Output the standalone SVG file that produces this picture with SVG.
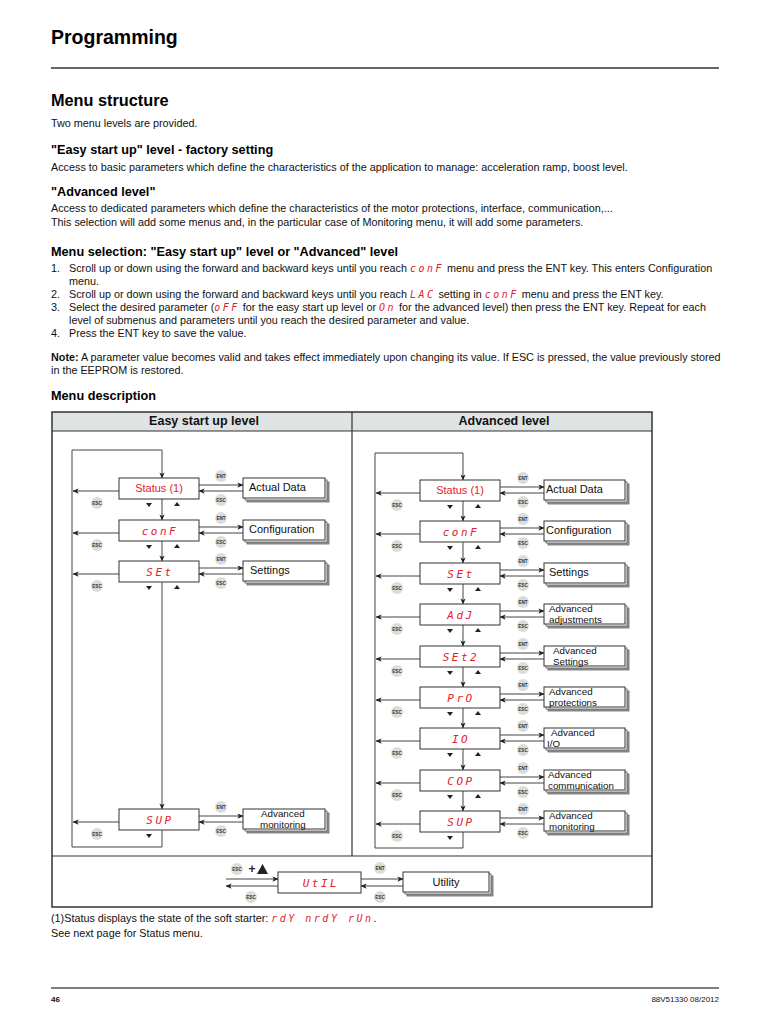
<svg xmlns="http://www.w3.org/2000/svg" xmlns:xlink="http://www.w3.org/1999/xlink" width="768" height="1024" viewBox="0 0 768 1024">
<style>
.t{font-family:"Liberation Sans",Arial,sans-serif;font-size:10.8px;fill:#111}
.b{font-weight:bold}
.h1{font-family:"Liberation Sans",Arial,sans-serif;font-size:19.5px;font-weight:bold;fill:#000}
.h2{font-family:"Liberation Sans",Arial,sans-serif;font-size:16.3px;font-weight:bold;fill:#000}
.h3{font-family:"Liberation Sans",Arial,sans-serif;font-size:12.7px;font-weight:bold;fill:#000}
.th{font-family:"Liberation Sans",Arial,sans-serif;font-size:12.5px;font-weight:bold;fill:#111;text-anchor:middle}
.code{font-family:"DejaVu Sans Mono",monospace;font-style:oblique;fill:#e4202a;letter-spacing:2.5px}
.dc{font-family:"DejaVu Sans Mono",monospace;font-style:oblique;font-size:11px;fill:#e4202a;letter-spacing:2.5px;text-anchor:middle}
.st{font-family:"Liberation Sans",Arial,sans-serif;font-size:11px;fill:#e4202a;text-anchor:middle}
.lb{font-family:"Liberation Sans",Arial,sans-serif;font-size:11px;fill:#111}
.lb2{font-family:"Liberation Sans",Arial,sans-serif;font-size:9.8px;fill:#111}
.bx{fill:#fff;stroke:#333;stroke-width:1}
.s1{fill:#fff;stroke:#555;stroke-width:0.8}
.s2{fill:#9a9a9a;stroke:#666;stroke-width:0.8}
.ln{fill:none;stroke:#444;stroke-width:1}
.tri{fill:#222}
.bd{font-family:"Liberation Sans",Arial,sans-serif;font-size:4.6px;font-weight:bold;fill:#333;text-anchor:middle}
.foot{font-family:"Liberation Sans",Arial,sans-serif;font-size:8px;fill:#111}
</style>
<defs>
<marker id="ah" viewBox="0 0 8 8" refX="7.5" refY="4" markerWidth="6" markerHeight="6" markerUnits="userSpaceOnUse" orient="auto">
<path d="M0,0.5 L8,4 L0,7.5 L2,4 z" fill="#222"/>
</marker>
<g id="esc"><circle r="6" fill="#dcdcdc"/><text y="1.7" class="bd">ESC</text></g>
<g id="ent"><circle r="6" fill="#dcdcdc"/><text y="1.7" class="bd">ENT</text></g>
<polygon id="dn" points="-3,-2 3,-2 0,2" class="tri"/>
<polygon id="up" points="-3,2 3,2 0,-2" class="tri"/>
</defs>
<rect width="768" height="1024" fill="#fff"/>

<!-- Page text -->
<g id="page-text">
<text x="51" y="44" class="h1">Programming</text>
<line x1="51" y1="68" x2="719" y2="68" stroke="#666" stroke-width="2"/>
<text x="51" y="106" class="h2">Menu structure</text>
<text x="51" y="127" class="t">Two menu levels are provided.</text>
<text x="51" y="154" class="h3">"Easy start up" level - factory setting</text>
<text x="51" y="171" class="t">Access to basic parameters which define the characteristics of the application to manage: acceleration ramp, boost level.</text>
<text x="51" y="196" class="h3">"Advanced level"</text>
<text x="51" y="212" class="t">Access to dedicated parameters which define the characteristics of the motor protections, interface, communication,...</text>
<text x="51" y="226" class="t">This selection will add some menus and, in the particular case of Monitoring menu, it will add some parameters.</text>
<text x="51" y="256" class="h3">Menu selection: "Easy start up" level or "Advanced" level</text>
<text x="51" y="272" class="t">1.</text>
<text x="69" y="272" class="t">Scroll up or down using the forward and backward keys until you reach <tspan class="code" font-size="10">conF</tspan> menu and press the ENT key. This enters Configuration</text>
<text x="69" y="285" class="t">menu.</text>
<text x="51" y="298" class="t">2.</text>
<text x="69" y="298" class="t">Scroll up or down using the forward and backward keys until you reach <tspan class="code" font-size="10">LAC</tspan> setting in <tspan class="code" font-size="10">conF</tspan> menu and press the ENT key.</text>
<text x="51" y="311" class="t">3.</text>
<text x="69" y="311" class="t">Select the desired parameter (<tspan class="code" font-size="10">oFF</tspan> for the easy start up level or <tspan class="code" font-size="10">On</tspan> for the advanced level) then press the ENT key. Repeat for each</text>
<text x="69" y="324" class="t">level of submenus and parameters until you reach the desired parameter and value.</text>
<text x="51" y="337" class="t">4.</text>
<text x="69" y="337" class="t">Press the ENT key to save the value.</text>
<text x="51" y="361" class="t"><tspan class="b">Note:</tspan> A parameter value becomes valid and takes effect immediately upon changing its value. If ESC is pressed, the value previously stored</text>
<text x="51" y="374" class="t">in the EEPROM is restored.</text>
<text x="51" y="400" class="h3">Menu description</text>
<text x="51" y="922" class="t">(1)Status displays the state of the soft starter: <tspan class="code" font-size="10">rdY nrdY rUn</tspan>.</text>
<text x="51" y="937" class="t">See next page for Status menu.</text>
<line x1="51" y1="988" x2="719" y2="988" stroke="#555" stroke-width="1.5"/>
<text x="51" y="1002" class="foot" font-weight="bold">46</text>
<text x="719" y="1002" class="foot" text-anchor="end">88V51330 08/2012</text>
</g>

<!-- Table -->
<g id="table">
<rect x="52" y="412" width="600" height="19" fill="#dfe3e3"/>
<rect x="52" y="412" width="600" height="495" fill="none" stroke="#333" stroke-width="1.5"/>
<line x1="52" y1="431" x2="652" y2="431" stroke="#333" stroke-width="1.2"/>
<line x1="352" y1="412" x2="352" y2="856" stroke="#333" stroke-width="1.2"/>
<line x1="52" y1="856" x2="652" y2="856" stroke="#333" stroke-width="1.2"/>
<text x="204" y="425" class="th">Easy start up level</text>
<text x="504" y="425" class="th">Advanced level</text>
</g>

<!-- Connectors -->
<g id="connectors">
<path class="ln" d="M162,830 V847 H72 V450 H162 V478" marker-end="url(#ah)"/>
<line class="ln" x1="162" y1="499" x2="162" y2="520" marker-end="url(#ah)"/>
<line class="ln" x1="162" y1="541" x2="162" y2="561" marker-end="url(#ah)"/>
<line class="ln" x1="162" y1="582" x2="162" y2="809" marker-end="url(#ah)"/>
<line class="ln" x1="119" y1="491" x2="73" y2="491" marker-end="url(#ah)"/>
<line class="ln" x1="119" y1="533" x2="73" y2="533" marker-end="url(#ah)"/>
<line class="ln" x1="119" y1="574" x2="73" y2="574" marker-end="url(#ah)"/>
<line class="ln" x1="119" y1="822" x2="73" y2="822" marker-end="url(#ah)"/>
<line class="ln" x1="199" y1="485" x2="243" y2="485" marker-end="url(#ah)"/>
<line class="ln" x1="243" y1="491" x2="199" y2="491" marker-end="url(#ah)"/>
<line class="ln" x1="199" y1="527" x2="243" y2="527" marker-end="url(#ah)"/>
<line class="ln" x1="243" y1="533" x2="199" y2="533" marker-end="url(#ah)"/>
<line class="ln" x1="199" y1="568" x2="243" y2="568" marker-end="url(#ah)"/>
<line class="ln" x1="243" y1="574" x2="199" y2="574" marker-end="url(#ah)"/>
<line class="ln" x1="199" y1="816" x2="243" y2="816" marker-end="url(#ah)"/>
<line class="ln" x1="243" y1="822" x2="199" y2="822" marker-end="url(#ah)"/>

<path class="ln" d="M463,832 V848 H375 V453 H463 V480" marker-end="url(#ah)"/>
<line class="ln" x1="463" y1="501" x2="463" y2="521" marker-end="url(#ah)"/>
<line class="ln" x1="463" y1="542" x2="463" y2="563" marker-end="url(#ah)"/>
<line class="ln" x1="463" y1="584" x2="463" y2="604" marker-end="url(#ah)"/>
<line class="ln" x1="463" y1="625" x2="463" y2="646" marker-end="url(#ah)"/>
<line class="ln" x1="463" y1="667" x2="463" y2="687" marker-end="url(#ah)"/>
<line class="ln" x1="463" y1="708" x2="463" y2="728" marker-end="url(#ah)"/>
<line class="ln" x1="463" y1="749" x2="463" y2="770" marker-end="url(#ah)"/>
<line class="ln" x1="463" y1="791" x2="463" y2="811" marker-end="url(#ah)"/>
<line class="ln" x1="420" y1="493" x2="376" y2="493" marker-end="url(#ah)"/>
<line class="ln" x1="420" y1="534" x2="376" y2="534" marker-end="url(#ah)"/>
<line class="ln" x1="420" y1="576" x2="376" y2="576" marker-end="url(#ah)"/>
<line class="ln" x1="420" y1="617" x2="376" y2="617" marker-end="url(#ah)"/>
<line class="ln" x1="420" y1="659" x2="376" y2="659" marker-end="url(#ah)"/>
<line class="ln" x1="420" y1="700" x2="376" y2="700" marker-end="url(#ah)"/>
<line class="ln" x1="420" y1="741" x2="376" y2="741" marker-end="url(#ah)"/>
<line class="ln" x1="420" y1="783" x2="376" y2="783" marker-end="url(#ah)"/>
<line class="ln" x1="420" y1="824" x2="376" y2="824" marker-end="url(#ah)"/>
<line class="ln" x1="500" y1="487" x2="544" y2="487" marker-end="url(#ah)"/>
<line class="ln" x1="544" y1="493" x2="500" y2="493" marker-end="url(#ah)"/>
<line class="ln" x1="500" y1="528" x2="544" y2="528" marker-end="url(#ah)"/>
<line class="ln" x1="544" y1="534" x2="500" y2="534" marker-end="url(#ah)"/>
<line class="ln" x1="500" y1="570" x2="544" y2="570" marker-end="url(#ah)"/>
<line class="ln" x1="544" y1="576" x2="500" y2="576" marker-end="url(#ah)"/>
<line class="ln" x1="500" y1="611" x2="544" y2="611" marker-end="url(#ah)"/>
<line class="ln" x1="544" y1="617" x2="500" y2="617" marker-end="url(#ah)"/>
<line class="ln" x1="500" y1="653" x2="544" y2="653" marker-end="url(#ah)"/>
<line class="ln" x1="544" y1="659" x2="500" y2="659" marker-end="url(#ah)"/>
<line class="ln" x1="500" y1="694" x2="544" y2="694" marker-end="url(#ah)"/>
<line class="ln" x1="544" y1="700" x2="500" y2="700" marker-end="url(#ah)"/>
<line class="ln" x1="500" y1="735" x2="544" y2="735" marker-end="url(#ah)"/>
<line class="ln" x1="544" y1="741" x2="500" y2="741" marker-end="url(#ah)"/>
<line class="ln" x1="500" y1="777" x2="544" y2="777" marker-end="url(#ah)"/>
<line class="ln" x1="544" y1="783" x2="500" y2="783" marker-end="url(#ah)"/>
<line class="ln" x1="500" y1="818" x2="544" y2="818" marker-end="url(#ah)"/>
<line class="ln" x1="544" y1="824" x2="500" y2="824" marker-end="url(#ah)"/>

<line class="ln" x1="226" y1="879" x2="278" y2="879" marker-end="url(#ah)"/>
<line class="ln" x1="278" y1="886" x2="226" y2="886" marker-end="url(#ah)"/>
<line class="ln" x1="361" y1="879" x2="403" y2="879" marker-end="url(#ah)"/>
<line class="ln" x1="403" y1="886" x2="361" y2="886" marker-end="url(#ah)"/>

<use href="#ent" x="221" y="476"/><use href="#esc" x="221" y="500"/><use href="#esc" x="97" y="503"/><use href="#dn" x="149" y="505"/><use href="#up" x="177" y="504"/>
<use href="#ent" x="221" y="518"/><use href="#esc" x="221" y="542"/><use href="#esc" x="97" y="545"/><use href="#dn" x="149" y="547"/><use href="#up" x="177" y="546"/>
<use href="#ent" x="221" y="559"/><use href="#esc" x="221" y="583"/><use href="#esc" x="97" y="586"/><use href="#dn" x="149" y="588"/><use href="#up" x="177" y="587"/>
<use href="#ent" x="221" y="807"/><use href="#esc" x="221" y="831"/><use href="#esc" x="97" y="834"/><use href="#dn" x="149" y="836"/>

<use href="#ent" x="523" y="478"/><use href="#esc" x="523" y="502"/><use href="#esc" x="397" y="505"/><use href="#dn" x="450" y="507"/><use href="#up" x="478" y="506"/>
<use href="#ent" x="523" y="519"/><use href="#esc" x="523" y="543"/><use href="#esc" x="397" y="546"/><use href="#dn" x="450" y="548"/><use href="#up" x="478" y="547"/>
<use href="#ent" x="523" y="561"/><use href="#esc" x="523" y="585"/><use href="#esc" x="397" y="588"/><use href="#dn" x="450" y="590"/><use href="#up" x="478" y="589"/>
<use href="#ent" x="523" y="602"/><use href="#esc" x="523" y="626"/><use href="#esc" x="397" y="629"/><use href="#dn" x="450" y="631"/><use href="#up" x="478" y="630"/>
<use href="#ent" x="523" y="644"/><use href="#esc" x="523" y="668"/><use href="#esc" x="397" y="671"/><use href="#dn" x="450" y="673"/><use href="#up" x="478" y="672"/>
<use href="#ent" x="523" y="685"/><use href="#esc" x="523" y="709"/><use href="#esc" x="397" y="712"/><use href="#dn" x="450" y="714"/><use href="#up" x="478" y="713"/>
<use href="#ent" x="523" y="726"/><use href="#esc" x="523" y="750"/><use href="#esc" x="397" y="753"/><use href="#dn" x="450" y="755"/><use href="#up" x="478" y="754"/>
<use href="#ent" x="523" y="768"/><use href="#esc" x="523" y="792"/><use href="#esc" x="397" y="795"/><use href="#dn" x="450" y="797"/><use href="#up" x="478" y="796"/>
<use href="#ent" x="523" y="809"/><use href="#esc" x="523" y="833"/><use href="#esc" x="397" y="836"/><use href="#dn" x="450" y="838"/>

<use href="#esc" x="237" y="869"/>
<text x="252" y="873" font-family="Liberation Sans,Arial,sans-serif" font-size="12" font-weight="bold" fill="#222" text-anchor="middle">+</text>
<polygon points="257,874 268,874 262.5,864" class="tri"/>
<use href="#esc" x="251" y="897"/>
<use href="#ent" x="380" y="868"/>
<use href="#esc" x="380" y="897"/>
</g>

<!-- Left diagram nodes -->
<g id="L-status"><rect class="bx" x="119" y="478" width="80" height="21"/><text x="159" y="492" class="st">Status (1)</text></g>
<g id="L-conf"><rect class="bx" x="119" y="520" width="80" height="21"/><text x="160" y="535" class="dc">conF</text></g>
<g id="L-set"><rect class="bx" x="119" y="561" width="80" height="21"/><text x="160" y="576" class="dc">SEt</text></g>
<g id="L-sup"><rect class="bx" x="119" y="809" width="80" height="21"/><text x="160" y="824" class="dc">SUP</text></g>
<g id="L-actual"><rect class="s2" x="247" y="482" width="82" height="20"/><rect class="s1" x="245" y="480" width="82" height="20"/><rect class="bx" x="243" y="478" width="82" height="20"/><text x="249" y="491" class="lb">Actual Data</text></g>
<g id="L-config"><rect class="s2" x="247" y="524" width="82" height="20"/><rect class="s1" x="245" y="522" width="82" height="20"/><rect class="bx" x="243" y="520" width="82" height="20"/><text x="249" y="533" class="lb">Configuration</text></g>
<g id="L-settings"><rect class="s2" x="247" y="565" width="82" height="20"/><rect class="s1" x="245" y="563" width="82" height="20"/><rect class="bx" x="243" y="561" width="82" height="20"/><text x="250" y="574" class="lb">Settings</text></g>
<g id="L-monitoring"><rect class="s2" x="247" y="813" width="82" height="20"/><rect class="s1" x="245" y="811" width="82" height="20"/><rect class="bx" x="243" y="809" width="82" height="20"/><text x="261" y="817.3" class="lb2">Advanced</text><text x="260" y="828.3" class="lb2">monitoring</text></g>

<!-- Right diagram nodes -->
<g id="R-status"><rect class="bx" x="420" y="480" width="80" height="21"/><text x="460" y="494" class="st">Status (1)</text></g>
<g id="R-conf"><rect class="bx" x="420" y="521" width="80" height="21"/><text x="461" y="536" class="dc">conF</text></g>
<g id="R-set"><rect class="bx" x="420" y="563" width="80" height="21"/><text x="461" y="578" class="dc">SEt</text></g>
<g id="R-adj"><rect class="bx" x="420" y="604" width="80" height="21"/><text x="461" y="619" class="dc">AdJ</text></g>
<g id="R-set2"><rect class="bx" x="420" y="646" width="80" height="21"/><text x="461" y="661" class="dc">SEt2</text></g>
<g id="R-pro"><rect class="bx" x="420" y="687" width="80" height="21"/><text x="461" y="702" class="dc">PrO</text></g>
<g id="R-io"><rect class="bx" x="420" y="728" width="80" height="21"/><text x="461" y="743" class="dc">IO</text></g>
<g id="R-cop"><rect class="bx" x="420" y="770" width="80" height="21"/><text x="461" y="785" class="dc">COP</text></g>
<g id="R-sup"><rect class="bx" x="420" y="811" width="80" height="21"/><text x="461" y="826" class="dc">SUP</text></g>

<g id="R-actual"><rect class="s2" x="548" y="484" width="81" height="20"/><rect class="s1" x="546" y="482" width="81" height="20"/><rect class="bx" x="544" y="480" width="81" height="20"/><text x="546" y="493" class="lb">Actual Data</text></g>
<g id="R-config"><rect class="s2" x="548" y="525" width="81" height="20"/><rect class="s1" x="546" y="523" width="81" height="20"/><rect class="bx" x="544" y="521" width="81" height="20"/><text x="546" y="534" class="lb">Configuration</text></g>
<g id="R-settings"><rect class="s2" x="548" y="567" width="81" height="20"/><rect class="s1" x="546" y="565" width="81" height="20"/><rect class="bx" x="544" y="563" width="81" height="20"/><text x="549" y="576" class="lb">Settings</text></g>
<g id="R-adjust"><rect class="s2" x="548" y="608" width="81" height="20"/><rect class="s1" x="546" y="606" width="81" height="20"/><rect class="bx" x="544" y="604" width="81" height="20"/><text x="549" y="612.3" class="lb2">Advanced</text><text x="549" y="623.3" class="lb2">adjustments</text></g>
<g id="R-advsettings"><rect class="s2" x="548" y="650" width="81" height="20"/><rect class="s1" x="546" y="648" width="81" height="20"/><rect class="bx" x="544" y="646" width="81" height="20"/><text x="553" y="654.3" class="lb2">Advanced</text><text x="553" y="665.3" class="lb2">Settings</text></g>
<g id="R-protections"><rect class="s2" x="548" y="691" width="81" height="20"/><rect class="s1" x="546" y="689" width="81" height="20"/><rect class="bx" x="544" y="687" width="81" height="20"/><text x="549" y="695.3" class="lb2">Advanced</text><text x="549" y="706.3" class="lb2">protections</text></g>
<g id="R-advio"><rect class="s2" x="548" y="732" width="81" height="20"/><rect class="s1" x="546" y="730" width="81" height="20"/><rect class="bx" x="544" y="728" width="81" height="20"/><text x="551" y="736.3" class="lb2">Advanced</text><text x="547" y="747.3" class="lb2">I/O</text></g>
<g id="R-comm"><rect class="s2" x="548" y="774" width="81" height="20"/><rect class="s1" x="546" y="772" width="81" height="20"/><rect class="bx" x="544" y="770" width="81" height="20"/><text x="548" y="778.3" class="lb2">Advanced</text><text x="548" y="789.3" class="lb2">communication</text></g>
<g id="R-monitoring"><rect class="s2" x="548" y="815" width="81" height="20"/><rect class="s1" x="546" y="813" width="81" height="20"/><rect class="bx" x="544" y="811" width="81" height="20"/><text x="549" y="819.3" class="lb2">Advanced</text><text x="549" y="830.3" class="lb2">monitoring</text></g>

<!-- Utility row -->
<g id="U-util"><rect class="bx" x="278" y="872" width="83" height="21"/><text x="321" y="887" class="dc">UtIL</text></g>
<g id="U-utility"><rect class="s2" x="407" y="876" width="86" height="20"/><rect class="s1" x="405" y="874" width="86" height="20"/><rect class="bx" x="403" y="872" width="86" height="20"/><text x="446" y="886" class="lb" text-anchor="middle">Utility</text></g>
</svg>
